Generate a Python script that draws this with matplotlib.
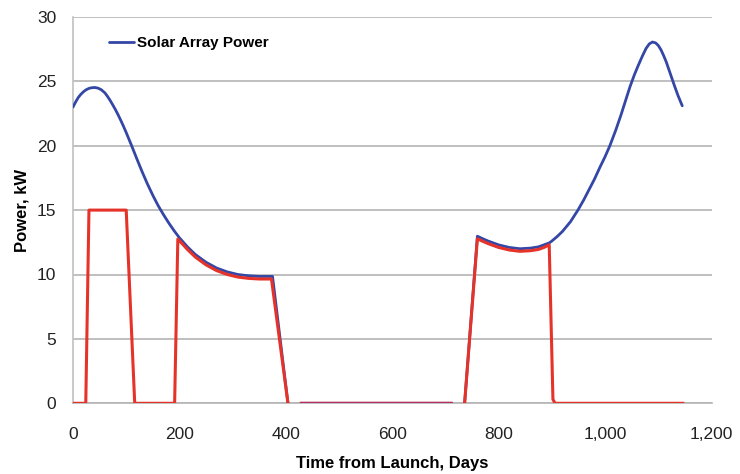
import numpy as np
import matplotlib
matplotlib.use("Agg")
import matplotlib.pyplot as plt
from matplotlib.ticker import FuncFormatter

plt.rcParams['font.family'] = ['Liberation Sans', 'DejaVu Sans']

# Solar array power (blue) -- NaN marks gaps in the line
solar_days = [0, 5, 10, 15, 20, 25, 30, 35, 41, 47, 53, 60, 65, 70, 75, 80, 85, 90, 95,
              100, 105, 110, 115, 120, 130, 140, 150, 160, 170, 180, 190, 200, 215, 230,
              250, 270, 290, 310, 330, 350, 375,
              404, 416,
              429, 711,
              724,
              736, 760, 770, 780, 790, 800, 820, 840, 860, 875, 885, 895, 900, 910, 920,
              935, 949, 960, 970, 980, 990, 1000, 1009, 1020, 1030, 1040, 1047, 1055,
              1062, 1070, 1077, 1083, 1089, 1095, 1100, 1105, 1110, 1115, 1120, 1125,
              1130, 1137, 1145]
solar_kw = [23.0, 23.4, 23.75, 24.0, 24.2, 24.35, 24.45, 24.5, 24.52, 24.47, 24.35,
            24.1, 23.82, 23.5, 23.15, 22.78, 22.38, 21.95, 21.5,
            21.02, 20.52, 20.02, 19.5, 18.98, 17.97, 17.02, 16.15, 15.35, 14.65, 14.0, 13.4,
            12.85, 12.15, 11.55, 10.95, 10.5, 10.2, 10.0, 9.9, 9.85, 9.85,
            0.0, np.nan,
            0.0, 0.0,
            np.nan,
            0.0, 12.97, 12.78, 12.6, 12.45, 12.3, 12.1, 12.0, 12.05, 12.15, 12.3, 12.45,
            12.6, 12.95, 13.35, 14.1, 15.0, 15.8, 16.6, 17.4, 18.3, 19.15, 20.0, 21.2,
            22.4, 23.7, 24.6, 25.5, 26.2, 26.95, 27.55, 27.9, 28.05, 27.98, 27.78, 27.45,
            27.0, 26.5, 25.9, 25.3, 24.7, 23.9, 23.1]

# Thruster power (red)
thrust_days = [0, 24, 30, 100, 116, 191, 197, 205, 215, 230, 250, 270, 290, 310, 330,
               350, 373,
               404, 416,
               429, 711,
               724,
               736, 760, 770, 780, 790, 800, 820, 840, 860, 875, 885, 895, 902, 906, 1146]
thrust_kw = [0.0, 0.0, 15.0, 15.0, 0.0, 0.0, 12.75, 12.4, 11.95, 11.35, 10.75, 10.3,
             10.0, 9.8, 9.7, 9.65, 9.65,
             0.0, np.nan,
             0.0, 0.0,
             np.nan,
             0.0, 12.77, 12.58, 12.4, 12.25, 12.1, 11.9, 11.8, 11.85, 11.95, 12.1, 12.3,
             0.3, 0.0, 0.0]

x_ticks = [0, 200, 400, 600, 800, 1000, 1200]
y_ticks = [0, 5, 10, 15, 20, 25, 30]

blue = '#3446a6'
red = '#e6332a'
mixed = '#b02f66'

fig = plt.figure(figsize=(7.4, 4.74), dpi=100)
ax = fig.add_axes([73 / 740, (474 - 403.3) / 474, (711.5 - 73) / 740, (403.3 - 16.9) / 474])

ax.plot(solar_days, solar_kw, color=blue, lw=2.0, solid_capstyle='round',
        solid_joinstyle='round', zorder=3, label='Solar Array Power')

td = np.array(thrust_days, dtype=float)
tk = np.array(thrust_kw, dtype=float)
ax.plot(td, tk, color=red, lw=2.2, solid_joinstyle='round', zorder=4)
# overlapping zero segment where both series coincide
mid = (td >= 429) & (td <= 711)
ax.plot(td[mid], tk[mid], color=mixed, lw=2.2, zorder=5)

ax.set_xlim(0, 1200)
ax.set_ylim(0, 30)
ax.set_xticks(x_ticks)
ax.set_yticks(y_ticks)
ax.xaxis.set_major_formatter(FuncFormatter(lambda v, p: f"{int(v):,}"))

ax.grid(axis='y', color='#b4b4b4', lw=1.2)
ax.set_axisbelow(True)
for s in ['top', 'right']:
    ax.spines[s].set_visible(False)
ax.spines['left'].set_color('#c0c0c0')
ax.spines['bottom'].set_color('#b4b4b4')
ax.spines['left'].set_linewidth(1.2)
ax.spines['bottom'].set_linewidth(1.2)
ax.tick_params(axis='both', length=0, labelsize=12.5, colors='#222222')
ax.tick_params(axis='x', pad=17)
ax.tick_params(axis='y', pad=12)

ax.set_xlabel('Time from Launch, Days', fontsize=12, fontweight='bold', labelpad=10)
ax.set_ylabel('Power, kW', fontsize=12, fontweight='bold', labelpad=5)

leg = ax.legend(loc='upper left', bbox_to_anchor=(0.035, 0.985), frameon=False,
                prop={'weight': 'bold', 'size': 11}, handlelength=1.6, handletextpad=0.2)

fig.savefig('out.png', dpi=100)
